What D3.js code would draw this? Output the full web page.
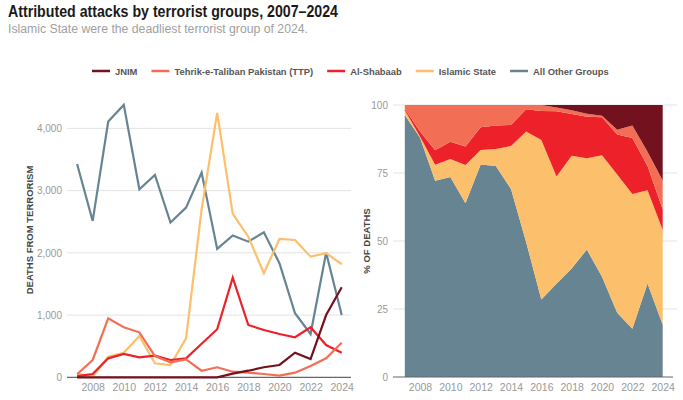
<!DOCTYPE html>
<html>
<head>
<meta charset="utf-8">
<script src="https://cdn.jsdelivr.net/npm/d3@7"></script>
<style>
  html, body { margin: 0; padding: 0; background: #fff; }
  svg { display: block; font-family: "Liberation Sans", Arial, Helvetica, sans-serif; }
</style>
</head>
<body>
<svg id="chart" width="683" height="400"></svg>
<script>
// ---------- DATA ----------
const years = [2007, 2008, 2009, 2010, 2011, 2012, 2013, 2014, 2015, 2016, 2017, 2018, 2019, 2020, 2021, 2022, 2023, 2024];
const jnim         = [0, 0, 0, 0, 0, 0, 0, 0, 0, 0, 60, 106, 161, 198, 396, 294, 1000, 1447];
const ttp          = [50, 278, 948, 804, 723, 340, 241, 289, 106, 161, 90, 74, 53, 26, 74, 182, 305, 556];
const alShabaab    = [20, 53, 305, 375, 321, 347, 278, 305, 540, 772, 1602, 841, 760, 696, 643, 804, 519, 396];
const islamicState = [60, 10, 331, 395, 664, 225, 198, 627, 2700, 4250, 2625, 2260, 1672, 2223, 2207, 1939, 1995, 1817];
const otherGroups  = [3429, 2513, 4110, 4378, 3022, 3252, 2486, 2727, 3290, 2063, 2280, 2180, 2331, 1833, 1029, 696, 2003, 1000];

const seriesNames = ["JNIM", "Tehrik-e-Taliban Pakistan (TTP)", "Al-Shabaab", "Islamic State", "All Other Groups"];
const seriesKeys  = ["jnim", "ttp", "alShabaab", "islamicState", "otherGroups"];
const seriesColors = ["#74111f", "#f26f55", "#ec2129", "#fcbf6b", "#678493"];

const leftTicks  = [0, 1000, 2000, 3000, 4000];
const rightTicks = [0, 0.25, 0.5, 0.75, 1];
const xTicks = [2008, 2010, 2012, 2014, 2016, 2018, 2020, 2022, 2024];

const titleText = "Attributed attacks by terrorist groups, 2007\u20132024";
const subtitleText = "Islamic State were the deadliest terrorist group of 2024.";
const leftAxisTitle = "DEATHS FROM TERRORISM";
const rightAxisTitle = "% OF DEATHS";

// ---------- BUILD TABLE ----------
const valuesByKey = { jnim, ttp, alShabaab, islamicState, otherGroups };
const table = years.map((y, i) => {
  const row = { year: y };
  seriesKeys.forEach(k => row[k] = valuesByKey[k][i]);
  return row;
});

const svg = d3.select("#chart");

// ---------- TITLES ----------
svg.append("text").attr("x", 8).attr("y", 17)
  .attr("font-size", 16).attr("font-weight", "bold").attr("fill", "#1a1a1a")
  .attr("textLength", 330).attr("lengthAdjust", "spacingAndGlyphs")
  .text(titleText);
svg.append("text").attr("x", 8).attr("y", 33)
  .attr("font-size", 12.5).attr("fill", "#a0a0a0")
  .attr("textLength", 300).attr("lengthAdjust", "spacingAndGlyphs")
  .text(subtitleText);

// ---------- LEGEND ----------
const legend = svg.append("g").attr("transform", "translate(92,71)");
let lx = 0;
seriesNames.forEach((name, i) => {
  const g = legend.append("g").attr("transform", `translate(${lx},0)`);
  g.append("line").attr("x1", 0).attr("x2", 18).attr("y1", 0).attr("y2", 0)
    .attr("stroke", seriesColors[i]).attr("stroke-width", 2.5);
  const t = g.append("text").attr("x", 23).attr("y", 3.5)
    .attr("font-size", 9.4).attr("font-weight", "bold").attr("fill", "#555")
    .text(name);
  const w = t.node().getComputedTextLength();
  lx += 23 + w + 14;
});

// ---------- LEFT CHART ----------
const xL = d3.scaleLinear().domain([2007, 2024]).range([77.1, 341.7]);
const yL = d3.scaleLinear().domain([0, 4000]).range([377.3, 128.4]);
const leftX0 = 67, leftX1 = 351;

const gl = svg.append("g");
gl.selectAll("line.grid").data(leftTicks.filter(d => d > 0)).join("line")
  .attr("x1", leftX0).attr("x2", leftX1)
  .attr("y1", d => yL(d)).attr("y2", d => yL(d))
  .attr("stroke", "#e3e3e3").attr("stroke-width", 1);

const yAxisL = d3.axisLeft(yL).tickValues(leftTicks).tickFormat(d3.format(",")).tickSize(0).tickPadding(0);
gl.append("g").attr("transform", `translate(${leftX0 - 5},0)`).call(yAxisL)
  .call(g => g.select(".domain").remove())
  .call(g => g.selectAll("text").attr("fill", "#999").attr("font-size", 10)
    .attr("font-family", "'Liberation Sans', Arial, sans-serif"));

const xAxisL = d3.axisBottom(xL).tickValues(xTicks).tickFormat(d3.format("d")).tickSize(0).tickPadding(0);
gl.append("g").attr("transform", `translate(0,391)`).call(xAxisL)
  .call(g => g.select(".domain").remove())
  .call(g => g.selectAll("text").attr("fill", "#999").attr("font-size", 10.5).attr("dy", 0)
    .attr("font-family", "'Liberation Sans', Arial, sans-serif"));

gl.append("line").attr("x1", leftX0).attr("x2", leftX1)
  .attr("y1", yL(0)).attr("y2", yL(0)).attr("stroke", "#666").attr("stroke-width", 1.2);

gl.append("text")
  .attr("transform", `translate(33,230) rotate(-90)`)
  .attr("text-anchor", "middle").attr("font-size", 9.5).attr("font-weight", "bold").attr("fill", "#444")
  .text(leftAxisTitle);

const lineGen = d3.line().x(d => xL(d.year)).y(d => yL(d.value));
const drawOrder = ["otherGroups", "islamicState", "alShabaab", "ttp", "jnim"];
drawOrder.forEach(k => {
  const i = seriesKeys.indexOf(k);
  const pts = table.map(r => ({ year: r.year, value: r[k] }));
  gl.append("path").datum(pts)
    .attr("d", lineGen)
    .attr("fill", "none").attr("stroke", seriesColors[i]).attr("stroke-width", 2.2)
    .attr("stroke-linejoin", "miter").attr("stroke-linecap", "butt");
});

// ---------- RIGHT CHART ----------
const xR = d3.scaleLinear().domain([2007, 2024]).range([404.8, 662.7]);
const yR = d3.scaleLinear().domain([0, 1]).range([377, 105]);
const rightX0 = 393, rightX1 = 677;

const gr = svg.append("g");
gr.selectAll("line.grid").data(rightTicks.filter(d => d > 0)).join("line")
  .attr("x1", rightX0).attr("x2", rightX1)
  .attr("y1", d => yR(d)).attr("y2", d => yR(d))
  .attr("stroke", "#e3e3e3").attr("stroke-width", 1);

const stackKeys = ["otherGroups", "islamicState", "alShabaab", "ttp", "jnim"];
const stack = d3.stack().keys(stackKeys).offset(d3.stackOffsetExpand);
const stacked = stack(table);
const area = d3.area().x(d => xR(d.data.year)).y0(d => yR(d[0])).y1(d => yR(d[1]));
gr.selectAll("path.area").data(stacked).join("path")
  .attr("d", area)
  .attr("fill", d => seriesColors[seriesKeys.indexOf(d.key)]);

const yAxisR = d3.axisLeft(yR).tickValues(rightTicks).tickFormat(d => d3.format("d")(d * 100)).tickSize(0).tickPadding(0);
gr.append("g").attr("transform", `translate(${rightX0 - 5},0)`).call(yAxisR)
  .call(g => g.select(".domain").remove())
  .call(g => g.selectAll("text").attr("fill", "#999").attr("font-size", 10)
    .attr("font-family", "'Liberation Sans', Arial, sans-serif"));

const xAxisR = d3.axisBottom(xR).tickValues(xTicks).tickFormat(d3.format("d")).tickSize(0).tickPadding(0);
gr.append("g").attr("transform", `translate(0,391)`).call(xAxisR)
  .call(g => g.select(".domain").remove())
  .call(g => g.selectAll("text").attr("fill", "#999").attr("font-size", 10.5).attr("dy", 0)
    .attr("font-family", "'Liberation Sans', Arial, sans-serif"));

gr.append("line").attr("x1", rightX0).attr("x2", 673)
  .attr("y1", yR(0)).attr("y2", yR(0)).attr("stroke", "#666").attr("stroke-width", 1.2);

gr.append("text")
  .attr("transform", `translate(370,241) rotate(-90)`)
  .attr("text-anchor", "middle").attr("font-size", 9.5).attr("font-weight", "bold").attr("fill", "#444")
  .text(rightAxisTitle);
</script>
</body>
</html>
